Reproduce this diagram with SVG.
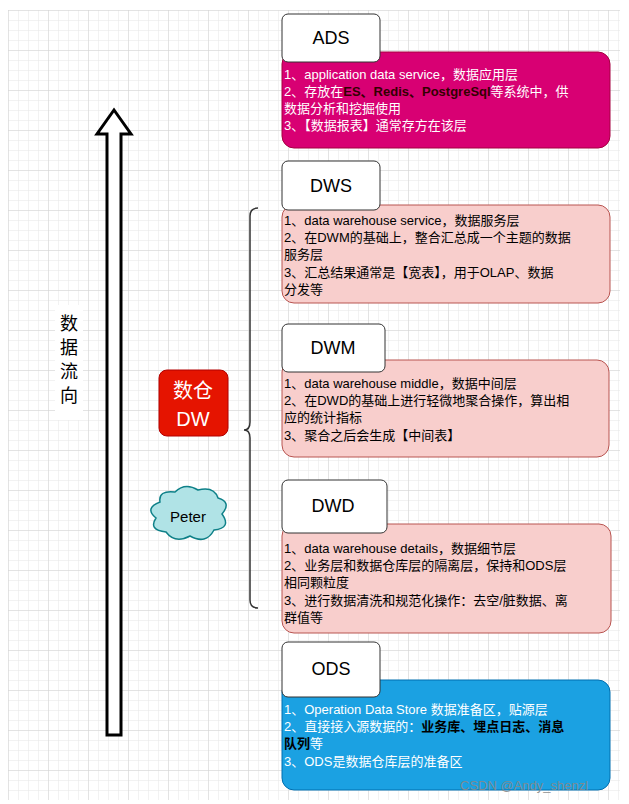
<svg xmlns="http://www.w3.org/2000/svg" width="629" height="804" viewBox="0 0 629 804">
<defs>
<pattern id="g" width="10" height="10" patternUnits="userSpaceOnUse" x="8" y="10"><path d="M10 0H0V10" fill="none" stroke="#e6e6e6" stroke-width="1"/></pattern>
<pattern id="G" width="40" height="40" patternUnits="userSpaceOnUse" x="8" y="10"><path d="M40 0H0V40" fill="none" stroke="#d4d4d4" stroke-width="1"/></pattern>
</defs>
<style>
text{font-family:"Liberation Sans","Noto Sans CJK SC",sans-serif}
.lbl rect{fill:#fff;stroke:#333;stroke-width:1}
.lbl text{font-size:18px;text-anchor:middle}
.t{font-size:13px}
.pk{fill:#f8cecc;stroke:#b85450}
</style>
<rect width="629" height="804" fill="#fff"/>
<rect x="8" y="10" width="612" height="790" fill="url(#g)"/>
<rect x="8" y="10" width="612" height="790" fill="url(#G)"/>
<g id="connectors">
<path d="M107 735V134H97L114 110L131 134H121V735Z" fill="#fff" stroke="#000" stroke-width="3"/>
<path d="M258 208Q250 208 250 216V422Q250 430 244 430Q250 430 250 438V600Q250 608 258 608" fill="none" stroke="#333" stroke-width="1.5"/>
</g>
<g id="flow">
<rect x="55" y="305" width="28" height="115" fill="#fff"/>
<text x="69" y="330" font-size="18" text-anchor="middle">数</text>
<text x="69" y="354" font-size="18" text-anchor="middle">据</text>
<text x="69" y="378" font-size="18" text-anchor="middle">流</text>
<text x="69" y="402" font-size="18" text-anchor="middle">向</text>
</g>
<g id="dw">
<rect x="159" y="370" width="69" height="66" rx="8" fill="#e51400" stroke="#b20000"/>
<text x="193" y="398" font-size="20" fill="#fff" text-anchor="middle">数仓</text>
<text x="193" y="426" font-size="20" fill="#fff" text-anchor="middle">DW</text>
</g>
<g id="peter">
<path d="M160 502Q158 490 175 492Q185 482 198 490Q214 486 218 498Q232 502 222 514Q232 528 214 530Q206 545 190 536Q175 544 166 532Q148 530 156 518Q144 508 160 502Z" fill="#b0e3e6" stroke="#0e8088" stroke-width="1.5"/>
<text x="188" y="522" font-size="15" text-anchor="middle">Peter</text>
</g>
<g id="ads">
<rect x="282" y="52" width="328" height="96" rx="12" fill="#d80073" stroke="#a50040"/>
<g class="lbl"><rect x="282" y="14" width="98" height="48" rx="6"/><text x="331" y="44">ADS</text></g>
<text class="t" fill="#fff"><tspan x="284" y="79">1、application data service，数据应用层</tspan><tspan x="284" y="96">2、存放在<tspan fill="#300" font-weight="bold">ES、Redis、PostgreSql</tspan>等系统中，供</tspan><tspan x="284" y="113">数据分析和挖掘使用</tspan><tspan x="284" y="130">3、【数据报表】通常存方在该层</tspan></text>
</g>
<g id="dws">
<rect class="pk" x="282" y="205" width="328" height="98" rx="12"/>
<g class="lbl"><rect x="282" y="161" width="98" height="49" rx="6"/><text x="331" y="192">DWS</text></g>
<text class="t"><tspan x="284" y="225">1、data warehouse service，数据服务层</tspan><tspan x="284" y="242">2、在DWM的基础上，整合汇总成一个主题的数据</tspan><tspan x="284" y="259">服务层</tspan><tspan x="284" y="277">3、汇总结果通常是【宽表】，用于OLAP、数据</tspan><tspan x="284" y="294">分发等</tspan></text>
</g>
<g id="dwm">
<rect class="pk" x="282" y="360" width="327" height="97" rx="12"/>
<g class="lbl"><rect x="282" y="324" width="103" height="48" rx="6"/><text x="333" y="354">DWM</text></g>
<text class="t"><tspan x="284" y="388">1、data warehouse middle，数据中间层</tspan><tspan x="284" y="405">2、在DWD的基础上进行轻微地聚合操作，算出相</tspan><tspan x="284" y="422">应的统计指标</tspan><tspan x="284" y="440">3、聚合之后会生成【中间表】</tspan></text>
</g>
<g id="dwd">
<rect class="pk" x="282" y="524" width="329" height="109" rx="12"/>
<g class="lbl"><rect x="282" y="480" width="105" height="53" rx="6"/><text x="333" y="512">DWD</text></g>
<text class="t"><tspan x="284" y="553">1、data warehouse details，数据细节层</tspan><tspan x="284" y="570">2、业务层和数据仓库层的隔离层，保持和ODS层</tspan><tspan x="284" y="587">相同颗粒度</tspan><tspan x="284" y="605">3、进行数据清洗和规范化操作：去空/脏数据、离</tspan><tspan x="284" y="622">群值等</tspan></text>
</g>
<g id="ods">
<rect x="282" y="680" width="328" height="110" rx="12" fill="#1ba1e2" stroke="#006eaf"/>
<g class="lbl"><rect x="282" y="642" width="98" height="55" rx="6"/><text x="331" y="675">ODS</text></g>
<text class="t" fill="#fff"><tspan x="284" y="714">1、Operation Data Store 数据准备区，贴源层</tspan><tspan x="284" y="731">2、直接接入源数据的：<tspan fill="#000" font-weight="bold">业务库、埋点日志、消息</tspan></tspan><tspan x="284" y="748" fill="#000" font-weight="bold">队列<tspan fill="#fff" font-weight="normal">等</tspan></tspan><tspan x="284" y="766">3、ODS是数据仓库层的准备区</tspan></text>
</g>
<text x="460" y="790" font-size="13" fill="#888" fill-opacity="0.9">CSDN @Andy_shenzl</text>
</svg>
